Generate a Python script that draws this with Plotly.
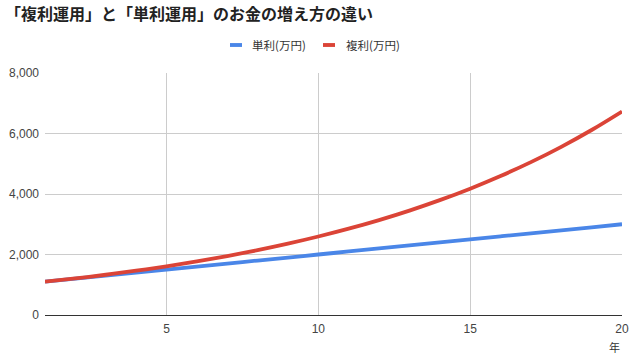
import plotly.graph_objects as go

years = list(range(1, 21))
simple = [1100, 1200, 1300, 1400, 1500, 1600, 1700, 1800, 1900, 2000,
          2100, 2200, 2300, 2400, 2500, 2600, 2700, 2800, 2900, 3000]
compound = [1100, 1210, 1331, 1464, 1611, 1772, 1949, 2144, 2358, 2594,
            2853, 3138, 3452, 3797, 4177, 4595, 5054, 5560, 6116, 6727]
x_ticks = [5, 10, 15, 20]
y_ticks = [0, 2000, 4000, 6000, 8000]
series_names = ["単利(万円)", "複利(万円)"]
series_colors = ["#4A86E8", "#DB4437"]

FONT = "Noto Sans CJK JP, Roboto, Arial, sans-serif"
TICKFONT = "Liberation Sans, Arial, sans-serif"

fig = go.Figure()
fig.add_trace(go.Scatter(x=years, y=simple, mode="lines", name=series_names[0],
                         line=dict(color=series_colors[0], width=3.8, shape="spline")))
fig.add_trace(go.Scatter(x=years, y=compound, mode="lines", name=series_names[1],
                         line=dict(color=series_colors[1], width=3.8, shape="spline")))

# custom legend (short swatches like the reference)
legend_pos = [(0.3206, 0.3414, 0.3553), (0.4818, 0.5026, 0.5182)]
shapes = []
annotations = []
ly = 1.1157
for (x0, x1, xt), name, col in zip(legend_pos, series_names, series_colors):
    shapes.append(dict(type="rect", xref="paper", yref="paper", x0=x0, x1=x1,
                       y0=ly - 0.008, y1=ly + 0.008, fillcolor=col, line=dict(width=0)))
    annotations.append(dict(text=name, xref="paper", yref="paper", x=xt, y=ly,
                            xanchor="left", yanchor="middle", showarrow=False,
                            font=dict(size=11.5, color="#333", family=FONT)))
annotations.append(dict(text="年", x=1.0, xref="paper", xanchor="right",
                        y=-0.132, yref="paper", yanchor="middle", showarrow=False,
                        font=dict(size=11, color="#333", family=FONT)))

fig.update_layout(
    width=638, height=357,
    margin=dict(l=45, r=16, t=73, b=42),
    paper_bgcolor="white", plot_bgcolor="white",
    font=dict(family=FONT, size=11, color="#444"),
    showlegend=False,
    title=dict(text="<b>「複利運用」と「単利運用」のお金の増え方の違い</b>",
               x=0.008, xanchor="left", y=0.96, yanchor="middle",
               font=dict(size=16, color="#222", family=FONT)),
    xaxis=dict(range=[1, 20], tickvals=x_ticks, showgrid=True, gridcolor="#cccccc",
               showline=True, linecolor="#333", linewidth=1, ticks="", zeroline=False,
               ticklabelstandoff=3, automargin=False,
               tickfont=dict(size=12, color="#444", family=TICKFONT)),
    yaxis=dict(range=[0, 8000], tickvals=y_ticks, tickformat=",", showgrid=True,
               gridcolor="#cccccc", zeroline=False, ticks="",
               ticklabelstandoff=5, automargin=False,
               tickfont=dict(size=12, color="#444", family=TICKFONT)),
    shapes=shapes,
    annotations=annotations,
)

fig.write_html("out.html", config={"displayModeBar": False},
               post_script="document.body.style.margin='0';")
